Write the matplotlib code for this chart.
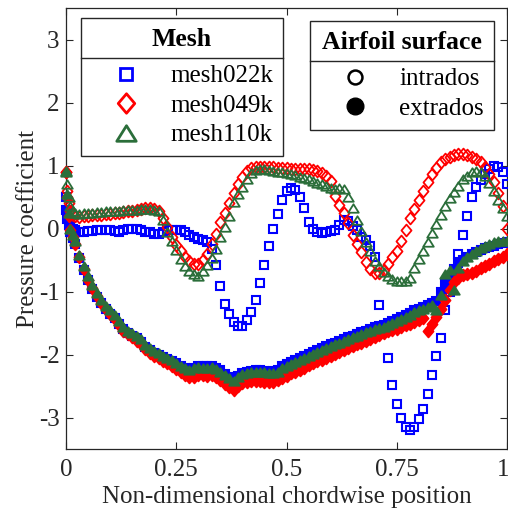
import matplotlib
matplotlib.use('Agg')
import matplotlib.pyplot as plt
import matplotlib.transforms as mtransforms
from matplotlib.lines import Line2D
from matplotlib.path import Path

plt.rcParams['font.family'] = ['Liberation Serif', 'DejaVu Serif']
plt.rcParams['axes.unicode_minus'] = False

# ---------------- data ----------------
x_pos = [0.000, 0.003, 0.006, 0.010, 0.015,
         0.02, 0.03, 0.04, 0.05, 0.06, 0.07, 0.08, 0.09, 0.10,
         0.11, 0.12, 0.13, 0.14, 0.15, 0.16, 0.17, 0.18, 0.19, 0.20,
         0.21, 0.22, 0.23, 0.24, 0.25, 0.26, 0.27, 0.28, 0.29, 0.30,
         0.31, 0.32, 0.33, 0.34, 0.35, 0.36, 0.37, 0.38, 0.39, 0.40,
         0.41, 0.42, 0.43, 0.44, 0.45, 0.46, 0.47, 0.48, 0.49, 0.50,
         0.51, 0.52, 0.53, 0.54, 0.55, 0.56, 0.57, 0.58, 0.59, 0.60,
         0.61, 0.62, 0.63, 0.64, 0.65, 0.66, 0.67, 0.68, 0.69, 0.70,
         0.71, 0.72, 0.73, 0.74, 0.75, 0.76, 0.77, 0.78, 0.79, 0.80,
         0.81, 0.82, 0.83, 0.84, 0.85, 0.86, 0.87, 0.88, 0.89, 0.90,
         0.91, 0.92, 0.93, 0.94, 0.95, 0.96, 0.97, 0.98, 0.99, 1.00]

# mesh022k
cp022_intrados = [0.50, 0.30, 0.15, 0.05, 0.00,
                  -0.03, -0.05, -0.05, -0.04, -0.04, -0.03, -0.03, -0.03, -0.03,
                  -0.04, -0.05, -0.03, -0.01, 0.00, -0.01, -0.03, -0.05, -0.06, -0.08,
                  -0.08, -0.06, -0.03, -0.02, -0.02, -0.03, -0.05, -0.10, -0.14, -0.16,
                  -0.18, -0.22, -0.33, -0.58, -0.92, -1.20, -1.36, -1.48, -1.54, -1.54,
                  -1.45, -1.33, -1.14, -0.87, -0.58, -0.28, 0.00, 0.23, 0.45, 0.60,
                  0.64, 0.61, 0.50, 0.32, 0.10, -0.01, -0.06, -0.07, -0.05, -0.04,
                  -0.03, 0.05, 0.13, 0.12, 0.04, -0.03, -0.13, -0.19, -0.27, -0.45,
                  -1.22, -1.62, -2.05, -2.48, -2.78, -3.00, -3.15, -3.20, -3.15, -3.03,
                  -2.86, -2.62, -2.33, -2.02, -1.74, -1.30, -1.00, -0.68, -0.40, -0.10,
                  0.20, 0.50, 0.66, 0.77, 0.87, 0.95, 1.00, 0.98, 0.90, 0.70]
cp022_extrados = [0.30, 0.15, 0.05, -0.05, -0.15,
                  -0.25, -0.47, -0.66, -0.82, -0.96, -1.08, -1.19, -1.28, -1.35,
                  -1.42, -1.51, -1.60, -1.66, -1.70, -1.74, -1.80, -1.88, -1.93, -1.97,
                  -2.00, -2.04, -2.07, -2.10, -2.14, -2.18, -2.21, -2.23, -2.21, -2.19,
                  -2.19, -2.19, -2.18, -2.21, -2.25, -2.31, -2.36, -2.40, -2.34, -2.29,
                  -2.27, -2.26, -2.25, -2.25, -2.26, -2.27, -2.26, -2.24, -2.19, -2.15,
                  -2.12, -2.09, -2.06, -2.03, -1.99, -1.96, -1.93, -1.90, -1.87, -1.84,
                  -1.81, -1.78, -1.75, -1.72, -1.70, -1.68, -1.65, -1.62, -1.59, -1.57,
                  -1.55, -1.53, -1.50, -1.47, -1.44, -1.40, -1.37, -1.34, -1.30, -1.27,
                  -1.24, -1.21, -1.18, -1.15, -1.00, -0.88, -0.80, -0.65, -0.55, -0.50,
                  -0.45, -0.41, -0.37, -0.34, -0.31, -0.29, -0.27, -0.25, -0.23, -0.22]

# mesh049k
cp049_intrados = [0.90, 0.60, 0.40, 0.28, 0.22,
                  0.20, 0.19, 0.20, 0.20, 0.21, 0.22, 0.22, 0.23, 0.23,
                  0.24, 0.25, 0.26, 0.27, 0.28, 0.29, 0.31, 0.32, 0.32, 0.31,
                  0.27, 0.16, 0.02, -0.14, -0.26, -0.36, -0.45, -0.52, -0.56, -0.57,
                  -0.50, -0.40, -0.25, -0.08, 0.10, 0.25, 0.41, 0.57, 0.70, 0.82,
                  0.92, 0.96, 0.98, 0.98, 0.98, 0.97, 0.97, 0.96, 0.96, 0.96,
                  0.95, 0.95, 0.95, 0.94, 0.94, 0.93, 0.91, 0.88, 0.84, 0.75,
                  0.52, 0.38, 0.24, 0.08, -0.10, -0.24, -0.38, -0.53, -0.64, -0.70,
                  -0.70, -0.66, -0.56, -0.46, -0.35, -0.20, -0.03, 0.17, 0.31, 0.45,
                  0.60, 0.74, 0.86, 0.96, 1.05, 1.10, 1.14, 1.17, 1.18, 1.19,
                  1.17, 1.14, 1.10, 1.06, 0.97, 0.87, 0.74, 0.56, 0.36, 0.00]
cp049_extrados = [0.90, 0.50, 0.20, -0.03, -0.14,
                  -0.25, -0.46, -0.65, -0.81, -0.95, -1.07, -1.19, -1.28, -1.36,
                  -1.44, -1.53, -1.62, -1.68, -1.73, -1.78, -1.84, -1.92, -1.97, -2.02,
                  -2.06, -2.10, -2.14, -2.18, -2.23, -2.28, -2.33, -2.36, -2.35, -2.33,
                  -2.33, -2.34, -2.33, -2.36, -2.41, -2.47, -2.52, -2.56, -2.50, -2.45,
                  -2.43, -2.42, -2.42, -2.42, -2.43, -2.43, -2.43, -2.41, -2.38, -2.34,
                  -2.30, -2.27, -2.24, -2.21, -2.17, -2.14, -2.11, -2.08, -2.05, -2.02,
                  -1.99, -1.96, -1.93, -1.90, -1.87, -1.84, -1.81, -1.78, -1.75, -1.72,
                  -1.69, -1.66, -1.63, -1.61, -1.59, -1.56, -1.53, -1.51, -1.48, -1.45,
                  -1.42, -1.62, -1.52, -1.40, -1.28, -1.13, -0.97, -0.85, -0.78, -0.74,
                  -0.72, -0.70, -0.67, -0.63, -0.60, -0.56, -0.52, -0.49, -0.46, -0.40]

# mesh110k
cp110_intrados = [0.92, 0.70, 0.50, 0.35, 0.27,
                  0.24, 0.23, 0.24, 0.25, 0.25, 0.26, 0.26, 0.27, 0.27,
                  0.28, 0.28, 0.29, 0.29, 0.29, 0.30, 0.31, 0.31, 0.31, 0.30,
                  0.27, 0.14, -0.05, -0.20, -0.34, -0.48, -0.60, -0.68, -0.72, -0.75,
                  -0.68, -0.58, -0.47, -0.32, -0.14, 0.02, 0.20, 0.42, 0.54, 0.66,
                  0.79, 0.88, 0.93, 0.95, 0.95, 0.93, 0.91, 0.90, 0.89, 0.88,
                  0.87, 0.85, 0.82, 0.80, 0.79, 0.76, 0.73, 0.70, 0.67, 0.64,
                  0.63, 0.64, 0.63, 0.50, 0.33, 0.14, -0.04, -0.22, -0.36, -0.51,
                  -0.60, -0.69, -0.76, -0.80, -0.83, -0.84, -0.83, -0.78, -0.63, -0.49,
                  -0.35, -0.21, -0.07, 0.07, 0.22, 0.35, 0.48, 0.58, 0.68, 0.79,
                  0.84, 0.89, 0.92, 0.90, 0.83, 0.73, 0.60, 0.45, 0.33, 0.20]
cp110_extrados = [0.90, 0.55, 0.25, 0.00, -0.10,
                  -0.20, -0.42, -0.60, -0.76, -0.90, -1.02, -1.14, -1.23, -1.30,
                  -1.38, -1.47, -1.56, -1.62, -1.66, -1.70, -1.76, -1.85, -1.90, -1.94,
                  -1.98, -2.02, -2.05, -2.09, -2.13, -2.18, -2.22, -2.24, -2.22, -2.20,
                  -2.21, -2.21, -2.20, -2.23, -2.27, -2.33, -2.38, -2.42, -2.36, -2.31,
                  -2.29, -2.28, -2.27, -2.27, -2.28, -2.29, -2.29, -2.27, -2.22, -2.18,
                  -2.15, -2.12, -2.09, -2.06, -2.02, -1.99, -1.96, -1.93, -1.90, -1.87,
                  -1.84, -1.81, -1.78, -1.75, -1.73, -1.71, -1.68, -1.65, -1.62, -1.60,
                  -1.58, -1.56, -1.53, -1.50, -1.47, -1.43, -1.40, -1.37, -1.33, -1.30,
                  -1.27, -1.24, -1.21, -1.30, -1.05, -0.72, -0.66, -0.98, -0.62, -0.52,
                  -0.45, -0.40, -0.35, -0.31, -0.28, -0.25, -0.22, -0.20, -0.20, -0.20]

mesh_labels = ['mesh022k', 'mesh049k', 'mesh110k']
surface_labels = ['intrados', 'extrados']
x_ticks = [0, 0.25, 0.5, 0.75, 1]
x_tick_labels = ['0', '0.25', '0.5', '0.75', '1']
y_ticks = [-3, -2, -1, 0, 1, 2, 3]

# ---------------- styles ----------------
BLUE = '#0000ff'
RED = '#ff0000'
GREEN = '#2b6e3a'
DARK = '#262626'
diamond = Path([(0, 1), (0.85, 0), (0, -1), (-0.85, 0), (0, 1)], closed=True)
triangle = Path([(0, 0.8), (-1, -0.8), (1, -0.8), (0, 0.8)], closed=True)

fig = plt.figure(figsize=(5.08, 5.13), dpi=100)
ax = fig.add_axes([66 / 508, 64 / 513, 441 / 508, 441 / 513])

series = [
    (cp022_intrados, 's', BLUE, 6.4, 1.5, False),
    (cp022_extrados, 's', BLUE, 6.4, 1.5, True),
    (cp049_intrados, diamond, RED, 8.5, 1.3, False),
    (cp049_extrados, diamond, RED, 8.5, 1.3, True),
    (cp110_intrados, triangle, GREEN, 7.6, 1.3, False),
    (cp110_extrados, triangle, GREEN, 7.6, 1.3, True),
]
for yv, mk, col, ms, mew, filled in series:
    ax.plot(x_pos, yv, linestyle='none', marker=mk, markersize=ms,
            markeredgewidth=mew, markeredgecolor=col,
            markerfacecolor=col if filled else 'none', clip_on=False, zorder=3)

ax.set_xlim(0, 1)
ax.set_ylim(-3.5, 3.5)
ax.set_xticks(x_ticks)
ax.set_xticklabels(x_tick_labels)
ax.set_yticks(y_ticks)
ax.tick_params(direction='in', top=True, right=True, length=5, width=0.8,
               labelsize=18, colors=DARK, labelcolor=DARK)
ax.tick_params(axis='y', pad=4.5)
ax.tick_params(axis='x', pad=7)
for sp in ax.spines.values():
    sp.set_color(DARK)
    sp.set_linewidth(0.9)
ax.set_xlabel('Non-dimensional chordwise position', fontsize=18, color=DARK, labelpad=4)
ax.set_ylabel('Pressure coefficient', fontsize=18, color=DARK, labelpad=0)

# keep the last x tick label inside the figure edge
last_lbl = ax.get_xticklabels()[-1]
last_lbl.set_transform(last_lbl.get_transform() +
                       mtransforms.ScaledTranslation(-4 / 100, 0, fig.dpi_scale_trans))

# ---------------- legends ----------------
h_mesh = [
    Line2D([], [], linestyle='none', marker='s', markersize=8.5, markeredgewidth=2,
           markeredgecolor=BLUE, markerfacecolor='none'),
    Line2D([], [], linestyle='none', marker=diamond, markersize=14, markeredgewidth=2,
           markeredgecolor=RED, markerfacecolor='none'),
    Line2D([], [], linestyle='none', marker=triangle, markersize=14, markeredgewidth=2,
           markeredgecolor=GREEN, markerfacecolor='none'),
]
h_surf = [
    Line2D([], [], linestyle='none', marker='o', markersize=10, markeredgewidth=1.8,
           markeredgecolor='black', markerfacecolor='none'),
    Line2D([], [], linestyle='none', marker='o', markersize=12, markeredgewidth=1,
           markeredgecolor='black', markerfacecolor='black'),
]

common = dict(loc='upper left', borderaxespad=0, fontsize=18, fancybox=False,
              framealpha=1, edgecolor=DARK, borderpad=0.4, handlelength=2.8,
              handletextpad=0.36, labelspacing=0.28,
              title_fontproperties={'weight': 'bold', 'size': 18.5})
leg1 = ax.legend(h_mesh, mesh_labels, title='Mesh',
                 bbox_to_anchor=(15 / 441, (449 - 18) / 441), **common)
ax.add_artist(leg1)
leg2 = ax.legend(h_surf, surface_labels, title='Airfoil surface',
                 bbox_to_anchor=((310 - 66) / 441, (449 - 21) / 441), **common)
for lg in (leg1, leg2):
    lg.get_frame().set_linewidth(1.0)
    lg.set_zorder(5)
    # larger gap between the title and the entries (room for the separator line)
    lg._legend_box.sep = 10

fig.canvas.draw()
renderer = fig.canvas.get_renderer()
inv = fig.transFigure.inverted()
for lg in (leg1, leg2):
    fb = lg.get_frame().get_window_extent(renderer)
    tb = lg.get_title().get_window_extent(renderer)
    hb = lg._legend_handle_box.get_window_extent(renderer)
    ysep = (tb.y0 + hb.y1) / 2
    (x0, y0) = inv.transform((fb.x0, ysep))
    (x1, _) = inv.transform((fb.x1, ysep))
    fig.add_artist(Line2D([x0, x1], [y0, y0], transform=fig.transFigure,
                          color=DARK, linewidth=1.0, zorder=6))

fig.savefig('out.png', dpi=100)
